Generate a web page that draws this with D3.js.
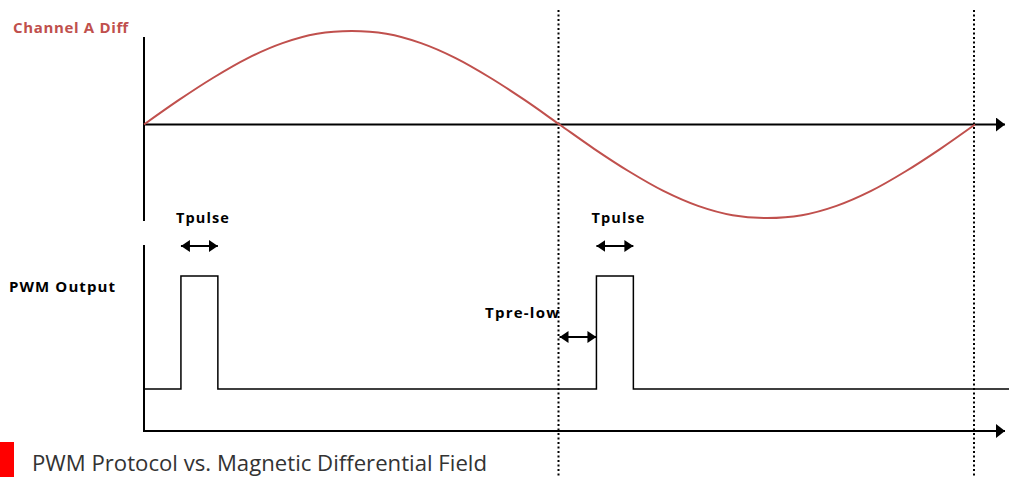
<!DOCTYPE html>
<html>
<head>
<meta charset="utf-8">
<script src="https://cdn.jsdelivr.net/npm/d3@7"></script>
<style>
  html, body { margin: 0; padding: 0; background: #fff; }
  svg { display: block; }
  text { font-family: "Open Sans", "Noto Sans", sans-serif; }
</style>
</head>
<body>
<svg id="chart" width="1009" height="477"></svg>
<script>
// ---- data ----
const phaseDeg = [0, 15, 30, 45, 60, 75, 90, 105, 120, 135, 150, 165, 180,
                  195, 210, 225, 240, 255, 270, 285, 300, 315, 330, 345, 360];
const channelA = [0, 0.26, 0.5, 0.71, 0.87, 0.97, 1, 0.97, 0.87, 0.71, 0.5, 0.26, 0,
                  -0.26, -0.5, -0.71, -0.87, -0.97, -1, -0.97, -0.87, -0.71, -0.5, -0.26, 0];
const pulseStart = [16, 196];
const pulseEnd = [32, 212];
const zeroCrossings = [180, 360];
const pwmLow = 0, pwmHigh = 1;
const labels = {
  top: "Channel A Diff",
  bottom: "PWM Output",
  pulse: "Tpulse",
  preLow: "Tpre-low",
  legend: "PWM Protocol vs. Magnetic Differential Field"
};

// ---- scales ----
const svg = d3.select("#chart");
const x = d3.scaleLinear().domain([0, 360]).range([144, 975]);
const yTop = d3.scaleLinear().domain([-1, 1]).range([218, 31]);
const yPwm = d3.scaleLinear().domain([pwmLow, pwmHigh]).range([389, 276]);

const defs = svg.append("defs");
function marker(id, orient) {
  defs.append("marker").attr("id", id)
    .attr("viewBox", "0 0 9 12").attr("refX", 9).attr("refY", 6)
    .attr("markerWidth", 9).attr("markerHeight", 12).attr("markerUnits", "userSpaceOnUse")
    .attr("orient", orient)
    .append("path").attr("d", "M0,0 L9,6 L0,12 Z").attr("fill", "#000");
}
marker("arrEnd", "auto");
marker("arrStart", "auto-start-reverse");
defs.append("marker").attr("id", "axArr")
  .attr("viewBox", "0 0 9 14").attr("refX", 9).attr("refY", 7)
  .attr("markerWidth", 9).attr("markerHeight", 14).attr("markerUnits", "userSpaceOnUse")
  .attr("orient", "auto")
  .append("path").attr("d", "M0,0 L9,7 L0,14 Z").attr("fill", "#000");

const axisEnd = x(373);

// ---- dotted zero-crossing lines ----
svg.selectAll("line.zc").data(zeroCrossings).enter().append("line")
  .attr("class", "zc")
  .attr("x1", d => x(d) - 1).attr("x2", d => x(d) - 1)
  .attr("y1", 10).attr("y2", 477)
  .attr("stroke", "#000").attr("stroke-width", 2).attr("stroke-dasharray", "2,2.5");

// ---- top panel axes ----
svg.append("line").attr("x1", x(0)).attr("x2", x(0)).attr("y1", 37).attr("y2", 221)
  .attr("stroke", "#000").attr("stroke-width", 2);
svg.append("line").attr("x1", x(0)).attr("x2", axisEnd).attr("y1", yTop(0)).attr("y2", yTop(0))
  .attr("stroke", "#000").attr("stroke-width", 2).attr("marker-end", "url(#axArr)");

// ---- sine curve ----
const line = d3.line().x((d, i) => x(phaseDeg[i])).y(d => yTop(d)).curve(d3.curveCatmullRom);
svg.append("path").datum(channelA).attr("d", line)
  .attr("fill", "none").attr("stroke", "#c0504d").attr("stroke-width", 2);

// ---- bottom panel axes ----
svg.append("line").attr("x1", x(0)).attr("x2", x(0)).attr("y1", 245).attr("y2", 431)
  .attr("stroke", "#000").attr("stroke-width", 2);
svg.append("line").attr("x1", x(0) - 1).attr("x2", axisEnd).attr("y1", 431).attr("y2", 431)
  .attr("stroke", "#000").attr("stroke-width", 2).attr("marker-end", "url(#axArr)");

// ---- PWM waveform ----
const pwmPts = [[x(0), yPwm(pwmLow)]];
pulseStart.forEach((s, i) => {
  pwmPts.push([x(s), yPwm(pwmLow)], [x(s), yPwm(pwmHigh)],
              [x(pulseEnd[i]), yPwm(pwmHigh)], [x(pulseEnd[i]), yPwm(pwmLow)]);
});
pwmPts.push([1009, yPwm(pwmLow)]);
svg.append("path").attr("d", d3.line()(pwmPts))
  .attr("fill", "none").attr("stroke", "#000").attr("stroke-width", 1.5);

// ---- Tpulse arrows + labels ----
pulseStart.forEach((s, i) => {
  svg.append("line").attr("x1", x(s)).attr("x2", x(pulseEnd[i]))
    .attr("y1", 246).attr("y2", 246)
    .attr("stroke", "#000").attr("stroke-width", 2)
    .attr("marker-start", "url(#arrStart)").attr("marker-end", "url(#arrEnd)");
  svg.append("text").attr("x", (x(s) + x(pulseEnd[i])) / 2 + 3).attr("y", 223)
    .attr("text-anchor", "middle").attr("font-weight", "bold").attr("font-size", 14.5)
    .attr("textLength", 53).attr("lengthAdjust", "spacing")
    .attr("fill", "#000").text(labels.pulse);
});

// ---- Tpre-low arrow + label ----
svg.append("line").attr("x1", x(zeroCrossings[0])).attr("x2", x(pulseStart[1]))
  .attr("y1", 337).attr("y2", 337)
  .attr("stroke", "#000").attr("stroke-width", 2)
  .attr("marker-start", "url(#arrStart)").attr("marker-end", "url(#arrEnd)");
svg.append("text").attr("x", 485).attr("y", 318)
  .attr("font-weight", "bold").attr("font-size", 15)
  .attr("textLength", 74).attr("lengthAdjust", "spacing")
  .attr("fill", "#000").text(labels.preLow);

// ---- side labels ----
svg.append("text").attr("x", 13).attr("y", 33)
  .attr("font-weight", "bold").attr("font-size", 15)
  .attr("textLength", 115).attr("lengthAdjust", "spacing")
  .attr("fill", "#c0504d").text(labels.top);
svg.append("text").attr("x", 9).attr("y", 292)
  .attr("font-weight", "bold").attr("font-size", 15)
  .attr("textLength", 106).attr("lengthAdjust", "spacing")
  .attr("fill", "#000").text(labels.bottom);

// ---- legend ----
svg.append("rect").attr("x", 0).attr("y", 442).attr("width", 14).attr("height", 35).attr("fill", "#ff0000");
svg.append("text").attr("x", 32).attr("y", 471)
  .attr("font-size", 21.5).attr("fill", "#333")
  .attr("textLength", 455).attr("lengthAdjust", "spacingAndGlyphs")
  .text(labels.legend);
</script>
</body>
</html>
